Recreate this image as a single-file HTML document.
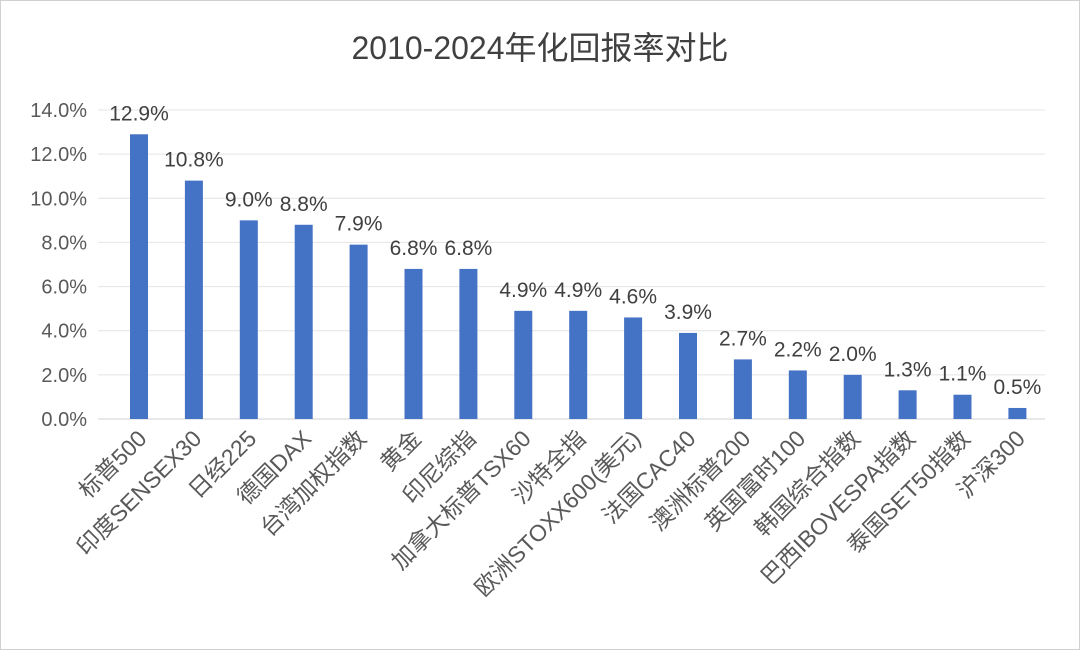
<!DOCTYPE html>
<html><head><meta charset="utf-8"><style>
html,body{margin:0;padding:0;background:#fff}
svg text{font-family:"Liberation Sans","Noto Sans CJK SC",sans-serif}
</style></head><body>
<svg id="chart" width="1080" height="650" viewBox="0 0 1080 650" xmlns="http://www.w3.org/2000/svg">
<rect x="0.5" y="0.5" width="1079" height="649" fill="#fff" stroke="#d0d0d0"/>
<text x="540" y="59" text-anchor="middle" font-size="32" fill="#404040">2010-2024年化回报率对比</text>
<g id="grid"></g><g id="bars"></g><g id="labels"></g>
</svg>
<script>
const categories=["标普500","印度SENSEX30","日经225","德国DAX","台湾加权指数","黄金","印尼综指","加拿大标普TSX60","沙特全指","欧洲STOXX600(美元)","法国CAC40","澳洲标普200","英国富时100","韩国综合指数","巴西IBOVESPA指数","泰国SET50指数","沪深300"];
const values=[12.9,10.8,9.0,8.8,7.9,6.8,6.8,4.9,4.9,4.6,3.9,2.7,2.2,2.0,1.3,1.1,0.5];
const ticks=[0,2,4,6,8,10,12,14];
const NS="http://www.w3.org/2000/svg";
const x0=103,x1=1045,y0=419,yTop=110,vmax=14;
const y=v=>y0-(v/vmax)*(y0-yTop);
const first=139,step=54.9;
const cx=i=>first+step*i;
function mk(t,a,p){const e=document.createElementNS(NS,t);for(const k in a)e.setAttribute(k,a[k]);p.appendChild(e);return e;}
const g=document.getElementById('grid'),b=document.getElementById('bars'),l=document.getElementById('labels');
ticks.forEach(t=>{
 const ln=mk('line',{x1:x0-5,x2:x1,y1:y(t),y2:y(t),stroke:t===0?'#d0d0d0':'#e4e4e4','stroke-width':1},g);
 
 
 const tx=mk('text',{x:87,y:y(t)+7,'text-anchor':'end','font-size':20,fill:'#595959'},g);
 tx.textContent=t.toFixed(1)+'%';
 
 
});
values.forEach((v,i)=>{
 const r=mk('rect',{x:cx(i)-9,y:y(v),width:18,height:y0-y(v),fill:'#4472c4'},b);
 
 
 const t=mk('text',{x:cx(i),y:y(v)-14,'text-anchor':'middle','font-size':21,fill:'#404040'},b);
 t.textContent=v.toFixed(1)+'%';
 
 
 const c=mk('text',{x:cx(i)+9,y:440,'text-anchor':'end','font-size':23,fill:'#595959',transform:`rotate(-45 ${cx(i)+9} 440)`},l);
 c.textContent=categories[i];
 
 
});
</script>
</body></html>
